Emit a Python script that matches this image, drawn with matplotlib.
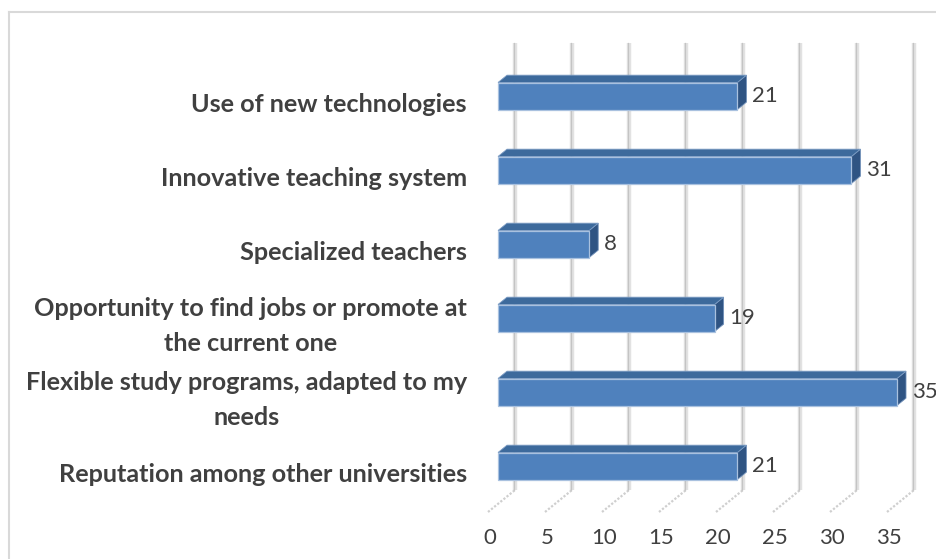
import matplotlib.pyplot as plt
from matplotlib.patches import Polygon
from matplotlib.lines import Line2D

categories = [
    "Reputation among other universities",
    "Flexible study programs, adapted to my\nneeds",
    "Opportunity to find jobs or promote at\nthe current one",
    "Specialized teachers",
    "Innovative teaching system",
    "Use of new technologies",
]
values = [21, 35, 19, 8, 31, 21]
ticks = [0, 5, 10, 15, 20, 25, 30, 35]

W, H = 937, 559
fig = plt.figure(figsize=(W / 100, H / 100), dpi=100)
ax = fig.add_axes([0, 0, 1, 1])

# pixel layout of the pseudo-3D plot: value scale, category pitch, floor depth
X0, XS = 488, 11.4        # value 0 on the floor front edge, px per unit
Y0, YS = 466, 74          # first category, px per category
ax.set_xlim((0 - X0) / XS, (W - X0) / XS)
ax.set_ylim((Y0 - H) / YS, (Y0 - 0) / YS)
ax.axis("off")

DX, DY = 27 / XS, 22 / YS          # full floor depth (front -> back wall)
F0, F1 = 10 / 27, 19 / 27          # bar front / back depth
FLOOR = (Y0 - 512) / YS
TOP = (Y0 - 43) / YS - DY
HALF = 13.5 / YS


def proj(v, y, d):
    return (v + d * DX, y + d * DY)


# back wall gridlines and floor ticks
for t in ticks:
    x0, y0 = proj(t, FLOOR, 1)
    x1, y1 = proj(t, TOP, 1)
    ax.plot([x0, x1], [y0, y1], color="#e2e2e2", lw=3.2, solid_capstyle="butt", zorder=1)
    ax.plot([x0 - 0.05, x1 - 0.05], [y0, y1], color="#c4c4c4", lw=0.9, zorder=1)
    fx, fy = proj(t, FLOOR, 0)
    ax.plot([fx, x0], [fy, y0], color="#cfcfcf", lw=1.6, ls=(0, (1, 0.8)), zorder=1)
    ax.text(fx + 2 / XS, (Y0 - 538) / YS, str(t), ha="center", va="center",
            fontsize=16, family="Lato", color="#404040")

front_c, top_c, side_c = "#4f81bd", "#3d6a9c", "#2f5483"

for i, (cat, v) in enumerate(zip(categories, values)):
    yc = i - F0 * DY          # bar centre height so the front face sits on category i
    yb, yt = yc - HALF, yc + HALF
    side = [proj(v, yb, F0), proj(v, yt, F0), proj(v, yt, F1), proj(v, yb, F1)]
    top = [proj(0, yt, F0), proj(v, yt, F0), proj(v, yt, F1), proj(0, yt, F1)]
    front = [proj(0, yb, F0), proj(v, yb, F0), proj(v, yt, F0), proj(0, yt, F0)]
    ax.add_patch(Polygon(side, closed=True, fc=side_c, ec="#6f8fb8", lw=0.6, zorder=3))
    ax.add_patch(Polygon(top, closed=True, fc=top_c, ec="#7c9cc4", lw=0.6, zorder=3))
    ax.add_patch(Polygon(front, closed=True, fc=front_c, ec="#a9c1df", lw=0.9, zorder=4))

    lx, _ = proj(v, yc, F1)
    ax.text(lx + 6 / XS, i, str(v), ha="left", va="center",
            fontsize=16, family="Lato", color="#404040")
    ax.text((467 - X0) / XS, i - 8 / YS, cat, ha="right", va="center",
            multialignment="center", linespacing=1.6,
            fontsize=18.2, family="Lato", fontweight="bold", color="#404040")

# chart area border
fig.add_artist(Line2D([9 / W, 9 / W], [0, 1 - 12 / H], color="#d9d9d9", lw=1.5))
fig.add_artist(Line2D([9 / W, 1], [1 - 12 / H, 1 - 12 / H], color="#d9d9d9", lw=1.5))

fig.savefig("out.png", dpi=100)
